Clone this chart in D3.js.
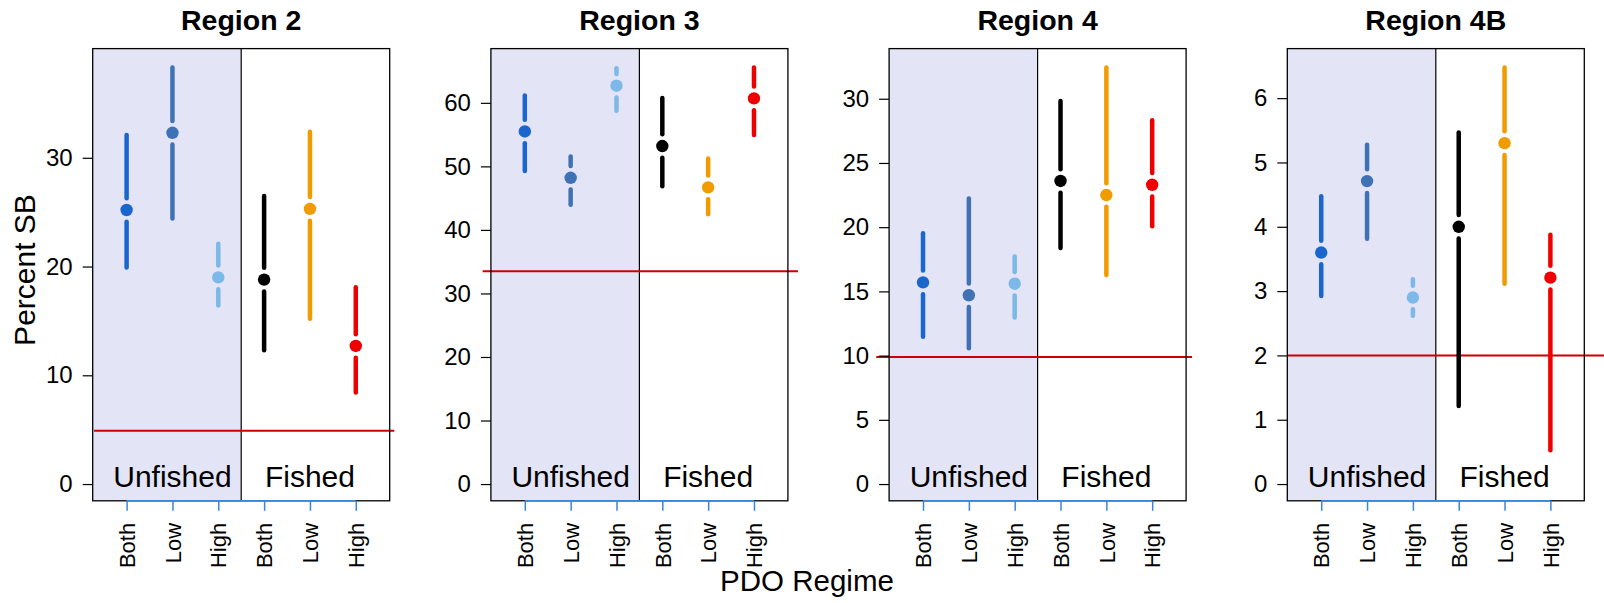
<!DOCTYPE html>
<html>
<head>
<meta charset="utf-8">
<script src="https://cdn.jsdelivr.net/npm/d3@7"></script>
<style>
  body { margin: 0; background: #fff; }
  svg text { font-family: "Liberation Sans", Arial, sans-serif; fill: #000; }
</style>
</head>
<body>
<svg width="1604" height="603"></svg>
<script>
// chart values
var regions = ["Region 2", "Region 3", "Region 4", "Region 4B"];
var regimes = ["Both", "Low", "High", "Both", "Low", "High"];
var fishing = ["Unfished", "Fished"];

var medians = [
    [25.2, 32.3, 19.0, 18.8, 25.3, 12.7],
    [55.5, 48.2, 62.7, 53.2, 46.7, 60.7],
    [15.7, 14.7, 15.6, 23.6, 22.5, 23.3],
    [3.6, 4.71, 2.9, 4.0, 5.3, 3.21]
];
var lowers = [
    [19.7, 24.2, 16.2, 12.1, 15.0, 8.2],
    [48.9, 43.6, 58.4, 46.5, 42.1, 54.6],
    [11.3, 10.4, 12.8, 18.2, 16.1, 19.9],
    [2.89, 3.78, 2.58, 1.18, 3.08, 0.49]
];
var uppers = [
    [32.3, 38.5, 22.3, 26.7, 32.6, 18.3],
    [61.5, 51.9, 65.8, 61.1, 51.6, 65.9],
    [19.7, 22.4, 17.9, 30.0, 32.6, 28.5],
    [4.51, 5.31, 3.22, 5.5, 6.51, 3.91]
];
var refLevels = [4.9, 33.5, 9.9, 2.0];
var yTicks = [
    [0, 10, 20, 30],
    [0, 10, 20, 30, 40, 50, 60],
    [0, 5, 10, 15, 20, 25, 30],
    [0, 1, 2, 3, 4, 5, 6]
];

// styling / layout
var colors = ["#1a66cc", "#3f72b5", "#7cb8e8", "#000000", "#f09c00", "#ee0000"];
var refSpan = [[0.29, 6.84], [0.08, 6.96], [-0.02, 6.87], [0.27, 8.4]];

var boxLeft = 92.7, stride = 398.2, boxW = 297,
    boxTop = 48.6, boxBottom = 500.8;
var gap = 11.8, lw = 4.5, dotR = 6.2;
var fontFam = "'Liberation Sans', Arial, sans-serif";

var svg = d3.select("svg");

regions.forEach(function (name, p) {
    var x0 = boxLeft + p * stride;
    var x = d3.scaleLinear().domain([0.26, 6.74]).range([x0, x0 + boxW]);
    var top = d3.max(uppers[p]);
    var y = d3.scaleLinear()
        .domain([-0.04 * top, top * 1.04])
        .range([boxBottom, boxTop]);

    var g = svg.append("g").attr("class", "panel");

    // unfished shading
    g.append("rect")
        .attr("x", x(0.26)).attr("y", boxTop)
        .attr("width", x(3.5) - x(0.26)).attr("height", boxBottom - boxTop)
        .attr("fill", "#e4e4f7");

    // divider
    g.append("line")
        .attr("x1", x(3.5)).attr("x2", x(3.5))
        .attr("y1", boxTop).attr("y2", boxBottom)
        .attr("stroke", "#000").attr("stroke-width", 1.2);

    // reference level
    g.append("line")
        .attr("x1", x(refSpan[p][0])).attr("x2", Math.min(1604, x(refSpan[p][1])))
        .attr("y1", y(refLevels[p])).attr("y2", y(refLevels[p]))
        .attr("stroke", "#cc0000").attr("stroke-width", 2);

    // group labels
    g.selectAll("text.grp").data(fishing).enter().append("text")
        .attr("class", "grp")
        .attr("x", function (d, i) { return x(2 + 3 * i); })
        .attr("y", 486.5)
        .attr("text-anchor", "middle")
        .style("font-size", "30px")
        .text(function (d) { return d; });

    // interval bars, broken around the point
    var rows = regimes.map(function (r, i) {
        return { i: i, m: medians[p][i], lo: lowers[p][i], hi: uppers[p][i] };
    });
    var bars = g.selectAll("g.bar").data(rows).enter().append("g").attr("class", "bar");

    bars.append("line")
        .attr("x1", function (d) { return x(d.i + 1); })
        .attr("x2", function (d) { return x(d.i + 1); })
        .attr("y1", function (d) { return y(d.hi) + lw / 2; })
        .attr("y2", function (d) { return Math.max(y(d.hi) + lw / 2, y(d.m) - gap); })
        .attr("stroke", function (d) { return colors[d.i]; })
        .attr("stroke-width", lw).attr("stroke-linecap", "round");

    bars.append("line")
        .attr("x1", function (d) { return x(d.i + 1); })
        .attr("x2", function (d) { return x(d.i + 1); })
        .attr("y1", function (d) { return Math.min(y(d.lo) - lw / 2, y(d.m) + gap); })
        .attr("y2", function (d) { return y(d.lo) - lw / 2; })
        .attr("stroke", function (d) { return colors[d.i]; })
        .attr("stroke-width", lw).attr("stroke-linecap", "round");

    bars.append("circle")
        .attr("cx", function (d) { return x(d.i + 1); })
        .attr("cy", function (d) { return y(d.m); })
        .attr("r", dotR)
        .attr("fill", function (d) { return colors[d.i]; });

    // box
    g.append("rect")
        .attr("x", x(0.26)).attr("y", boxTop)
        .attr("width", boxW).attr("height", boxBottom - boxTop)
        .attr("fill", "none").attr("stroke", "#000").attr("stroke-width", 1.3);

    // y axis
    var yAxis = g.append("g")
        .attr("transform", "translate(" + x0 + ",0)")
        .call(d3.axisLeft(y).tickValues(yTicks[p]).tickFormat(d3.format("d"))
            .tickSize(10).tickPadding(10));
    yAxis.select(".domain").remove();
    yAxis.selectAll("text").style("font-size", "24px").style("font-family", fontFam);
    yAxis.selectAll("line").attr("stroke-width", 1.2);

    // x axis (blue)
    var xAxis = g.append("g")
        .attr("transform", "translate(0," + boxBottom + ")")
        .call(d3.axisBottom(x).tickValues([1, 2, 3, 4, 5, 6]).tickSize(10).tickSizeOuter(0)
            .tickFormat(function (d) { return regimes[d - 1]; }));
    xAxis.select(".domain")
        .attr("d", "M" + x(1) + ",0H" + x(6))
        .attr("stroke", "#3a86dc").attr("stroke-width", 1.5);
    xAxis.selectAll("line").attr("stroke", "#3a86dc").attr("stroke-width", 1.5);
    xAxis.selectAll("text")
        .attr("transform", "translate(0,22) rotate(-90)")
        .attr("x", 0).attr("y", 0).attr("dy", "0.35em")
        .attr("text-anchor", "end")
        .style("font-size", "22px")
        .style("font-family", fontFam);

    // title
    g.append("text")
        .attr("x", x0 + boxW / 2).attr("y", 29.5)
        .attr("text-anchor", "middle")
        .style("font-size", "28.5px").style("font-weight", "bold")
        .text(name);
});

svg.append("text")
    .attr("transform", "translate(35,270) rotate(-90)")
    .attr("text-anchor", "middle")
    .style("font-size", "30px")
    .text("Percent SB");

svg.append("text")
    .attr("x", 807).attr("y", 591)
    .attr("text-anchor", "middle")
    .style("font-size", "29.5px")
    .text("PDO Regime");
</script>
</body>
</html>
